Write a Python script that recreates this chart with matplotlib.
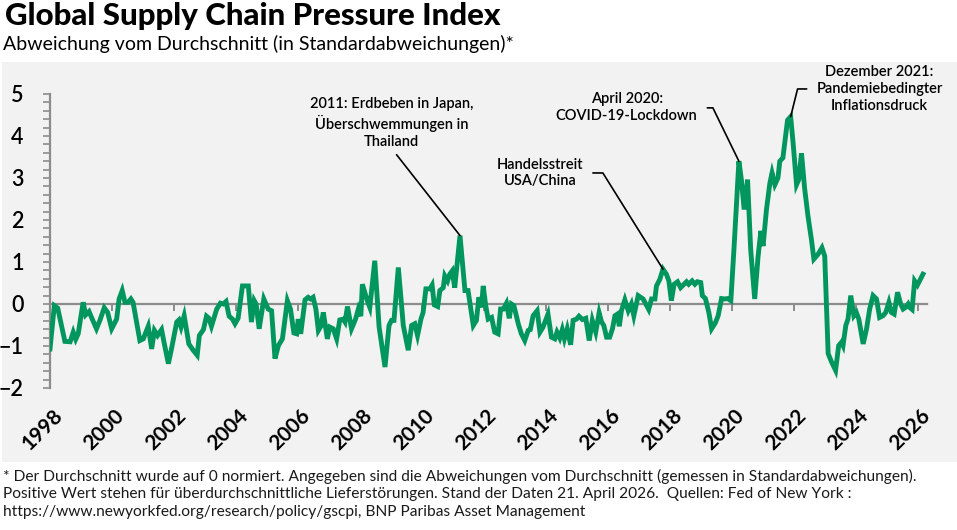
import matplotlib
matplotlib.use('Agg')
import matplotlib.pyplot as plt
from matplotlib.patches import Rectangle

plt.rcParams['font.family'] = ['Lato', 'DejaVu Sans']

# GSCPI, Monatswerte (Dezimaljahre)
years = [
    1998.00, 1998.14, 1998.25, 1998.48, 1998.65, 1998.75, 1998.83, 1998.91, 1999.07, 1999.15,
    1999.26, 1999.34, 1999.50, 1999.61, 1999.75, 1999.86, 1999.99, 2000.15, 2000.23, 2000.33,
    2000.42, 2000.52, 2000.61, 2000.68, 2000.90, 2001.01, 2001.17, 2001.28, 2001.37, 2001.47,
    2001.60, 2001.69, 2001.82, 2001.92, 2002.09, 2002.16, 2002.23, 2002.33, 2002.48, 2002.62,
    2002.75, 2002.82, 2002.95, 2003.05, 2003.13, 2003.21, 2003.38, 2003.50, 2003.59, 2003.68,
    2003.78, 2003.89, 2003.97, 2004.07, 2004.21, 2004.40, 2004.50, 2004.59, 2004.65, 2004.75,
    2004.90, 2005.04, 2005.15, 2005.26, 2005.37, 2005.50, 2005.66, 2005.76, 2005.87, 2005.96,
    2006.01, 2006.09, 2006.23, 2006.33, 2006.41, 2006.49, 2006.58, 2006.66, 2006.74, 2006.82,
    2006.95, 2007.03, 2007.14, 2007.25, 2007.35, 2007.46, 2007.52, 2007.60, 2007.73, 2007.86,
    2007.95, 2008.03, 2008.08, 2008.22, 2008.32, 2008.48, 2008.62, 2008.81, 2008.94, 2009.02,
    2009.10, 2009.24, 2009.40, 2009.56, 2009.67, 2009.77, 2009.86, 2009.97, 2010.04, 2010.13,
    2010.26, 2010.33, 2010.40, 2010.51, 2010.58, 2010.69, 2010.74, 2010.83, 2010.90, 2010.98,
    2011.06, 2011.23, 2011.39, 2011.49, 2011.66, 2011.76, 2011.84, 2011.92, 2011.98, 2012.06,
    2012.14, 2012.25, 2012.35, 2012.46, 2012.54, 2012.63, 2012.73, 2012.82, 2012.89, 2012.97,
    2013.11, 2013.21, 2013.32, 2013.43, 2013.50, 2013.59, 2013.72, 2013.81, 2013.91, 2014.07,
    2014.18, 2014.29, 2014.36, 2014.45, 2014.53, 2014.60, 2014.69, 2014.80, 2014.88, 2014.99,
    2015.07, 2015.18, 2015.29, 2015.40, 2015.50, 2015.61, 2015.72, 2015.80, 2015.87, 2015.96,
    2016.06, 2016.15, 2016.23, 2016.31, 2016.37, 2016.44, 2016.55, 2016.66, 2016.76, 2016.84,
    2016.98, 2017.14, 2017.32, 2017.41, 2017.52, 2017.57, 2017.68, 2017.78, 2017.89, 2017.97,
    2018.05, 2018.14, 2018.25, 2018.35, 2018.46, 2018.54, 2018.61, 2018.72, 2018.81, 2018.89,
    2019.00, 2019.05, 2019.15, 2019.26, 2019.35, 2019.47, 2019.56, 2019.67, 2019.77, 2019.87,
    2019.97, 2020.07, 2020.23, 2020.31, 2020.40, 2020.51, 2020.61, 2020.74, 2020.85, 2020.94,
    2021.01, 2021.12, 2021.23, 2021.30, 2021.39, 2021.49, 2021.55, 2021.65, 2021.80, 2021.90,
    2021.98, 2022.09, 2022.16, 2022.25, 2022.35, 2022.46, 2022.57, 2022.65, 2022.78, 2022.91,
    2023.00, 2023.11, 2023.22, 2023.35, 2023.45, 2023.54, 2023.59, 2023.68, 2023.75, 2023.84,
    2023.94, 2024.02, 2024.10, 2024.24, 2024.35, 2024.45, 2024.56, 2024.67, 2024.77, 2024.88,
    2024.97, 2025.07, 2025.15, 2025.24, 2025.35, 2025.45, 2025.53, 2025.61, 2025.69, 2025.74,
    2025.82, 2025.90, 2025.99, 2026.06, 2026.17,
]
gscpi = [
    -1.07, -0.04, -0.10, -0.89, -0.90, -0.67, -0.84, -0.71, 0.04, -0.26,
    -0.18, -0.32, -0.59, -0.39, -0.09, -0.20, -0.59, -0.36, 0.12, 0.32,
    0.04, 0.04, 0.12, 0.04, -0.87, -0.83, -0.53, -1.07, -0.63, -0.75,
    -0.61, -0.95, -1.42, -1.07, -0.43, -0.38, -0.55, -0.28, -0.95, -1.10,
    -1.22, -0.75, -0.61, -0.29, -0.34, -0.53, -0.12, 0.02, 0.00, 0.06,
    -0.29, -0.36, -0.47, -0.34, 0.43, 0.43, -0.43, 0.08, 0.00, -0.59,
    0.12, -0.12, -0.16, -1.30, -0.99, -0.83, 0.08, -0.12, -0.69, -0.71,
    -0.36, -0.71, 0.10, 0.16, 0.12, 0.16, -0.12, -0.63, -0.53, -0.20,
    -0.83, -0.55, -0.59, -0.83, -0.38, -0.36, -0.43, -0.06, -0.59, -0.36,
    -0.12, -0.29, 0.47, 0.12, -0.08, 1.03, -0.55, -1.50, -0.51, -0.39,
    -0.39, 0.87, -0.51, -1.10, -0.51, -0.47, -0.75, -0.36, -0.20, 0.36,
    0.36, 0.45, -0.02, -0.06, 0.32, 0.39, 0.67, 0.55, 0.71, 0.79,
    0.39, 1.63, 0.32, 0.32, -0.51, -0.39, 0.16, -0.08, 0.43, -0.04,
    -0.36, -0.32, -0.67, -0.71, -0.12, -0.12, 0.02, -0.34, 0.00, -0.04,
    -0.47, -0.71, -0.87, -0.63, -0.61, -0.28, -0.16, -0.67, -0.55, -0.24,
    -0.79, -0.83, -0.67, -0.81, -0.61, -0.83, -0.59, -0.97, -0.39, -0.36,
    -0.29, -0.37, -0.34, -0.87, -0.39, -0.67, -0.21, -0.43, -0.51, -0.79,
    -0.79, -0.59, -0.28, -0.24, -0.53, -0.16, 0.10, -0.16, 0.00, -0.28,
    0.20, 0.12, -0.13, 0.12, 0.12, 0.43, 0.59, 0.83, 0.71, 0.55,
    0.08, 0.47, 0.53, 0.39, 0.47, 0.53, 0.47, 0.55, 0.47, 0.53,
    0.51, 0.20, 0.13, -0.20, -0.59, -0.45, -0.28, 0.13, 0.12, 0.13,
    0.08, 1.30, 3.40, 2.96, 2.25, 2.96, 1.30, 0.12, 1.14, 1.74,
    1.38, 2.25, 2.88, 3.12, 2.84, 3.00, 3.40, 3.48, 4.38, 4.46,
    3.83, 2.84, 2.96, 3.59, 2.76, 2.09, 1.54, 1.07, 1.18, 1.34,
    1.14, -1.18, -1.38, -1.58, -0.99, -0.91, -0.99, -0.51, -0.36, 0.20,
    -0.28, -0.20, -0.36, -0.95, -0.59, -0.12, 0.20, 0.12, -0.32, -0.28,
    -0.20, 0.04, -0.20, -0.24, 0.28, 0.00, -0.12, -0.08, 0.00, -0.08,
    -0.13, 0.55, 0.45, 0.55, 0.71,
]

x_ticks = list(range(1998, 2027, 2))

# Ereignisse: Datum des Punkts, Text, Textposition
ev_dates = [2011.23, 2017.78, 2020.23, 2021.90]
ev_texts = ['2011: Erdbeben in Japan,\nÜberschwemmungen in\nThailand',
            'Handelsstreit\nUSA/China',
            'April 2020:\nCOVID-19-Lockdown',
            'Dezember 2021:\nPandemiebedingter\nInflationsdruck']
ev_text_x = [2009.03, 2013.81, 2016.61, 2024.77]
ev_text_y = [4.31, 3.12, 4.67, 5.12]

green = '#00965e'
grey = '#8c8c8c'

fig = plt.figure(figsize=(9.57, 5.30), dpi=100)
fig.patches.append(Rectangle((2 / 957, 68 / 530), 955 / 957, 400 / 530,
                             transform=fig.transFigure, facecolor='#f2f2f2',
                             edgecolor='none', zorder=-10))

ax = fig.add_axes([50 / 957, 142 / 530, 877 / 957, 294 / 530])
ax.set_zorder(1)
ax.set_facecolor('none')
ax.plot(years, gscpi, color=green, linewidth=3.5, solid_joinstyle='miter', zorder=3)

ax.set_xlim(1998, 2026.3)
ax.set_ylim(-2, 5)

for s in ['top', 'right']:
    ax.spines[s].set_visible(False)
ax.spines['left'].set_color(grey)
ax.spines['left'].set_linewidth(1.6)
ax.spines['bottom'].set_position(('data', 0))
ax.spines['bottom'].set_color(grey)
ax.spines['bottom'].set_linewidth(1.6)

ax.set_yticks(range(-2, 6))
ax.set_yticks([i / 5 for i in range(-10, 26)], minor=True)
ax.tick_params(axis='y', which='both', direction='out', length=5, width=1.2,
               color=grey, pad=14, labelsize=15.5)
ax.set_xticks(x_ticks)
ax.tick_params(axis='x', direction='out', length=5, width=1.4, color=grey,
               labelbottom=False)
for lab in ax.get_yticklabels():
    lab.set_fontweight('semibold')

for yr in x_ticks:
    ax.text(yr + 0.08, -2.42, str(yr), rotation=45, rotation_mode='anchor',
            ha='right', va='top', fontsize=15, fontweight='bold', clip_on=False)

# Anmerkungen
styles = [dict(arrowstyle='-', color='black', lw=1.2, relpos=(0.5, 0.0),
               shrinkA=3, shrinkB=0),
          dict(arrowstyle='-', color='black', lw=1.2, relpos=(1.0, 0.5),
               connectionstyle='angle,angleA=0,angleB=122,rad=0', shrinkA=5, shrinkB=0),
          dict(arrowstyle='-', color='black', lw=1.2, relpos=(1.0, 0.5),
               connectionstyle='angle,angleA=0,angleB=116,rad=0', shrinkA=5, shrinkB=0),
          dict(arrowstyle='-', color='black', lw=1.2, relpos=(0.0, 0.5),
               connectionstyle='angle,angleA=0,angleB=76,rad=0', shrinkA=5, shrinkB=0)]
for d, t, tx, ty, st in zip(ev_dates, ev_texts, ev_text_x, ev_text_y, styles):
    yv = gscpi[years.index(d)]
    ax.annotate(t, xy=(d, yv), xytext=(tx, ty), ha='center', va='center',
                fontsize=10.5, fontweight='semibold', linespacing=1.25,
                arrowprops=st, annotation_clip=False, zorder=4)

fig.text(5 / 957, 1 - 2 / 530, 'Global Supply Chain Pressure Index',
         fontsize=22.5, fontweight='black', va='top', ha='left')
fig.text(3 / 957, 1 - 35 / 530, 'Abweichung vom Durchschnitt (in Standardabweichungen)*',
         fontsize=14, fontweight='normal', va='top', ha='left')

fig.text(3 / 957, 1 - 469 / 530,
         '* Der Durchschnitt wurde auf 0 normiert. Angegeben sind die Abweichungen vom '
         'Durchschnitt (gemessen in Standardabweichungen).\n'
         'Positive Wert stehen für überdurchschnittliche Lieferstörungen. Stand der Daten '
         '21. April 2026.  Quellen: Fed of New York :\n'
         'https://www.newyorkfed.org/research/policy/gscpi, BNP Paribas Asset Management',
         fontsize=11.2, va='top', ha='left', linespacing=1.3, color='#1a1a1a')

fig.savefig('out.png', dpi=100)
